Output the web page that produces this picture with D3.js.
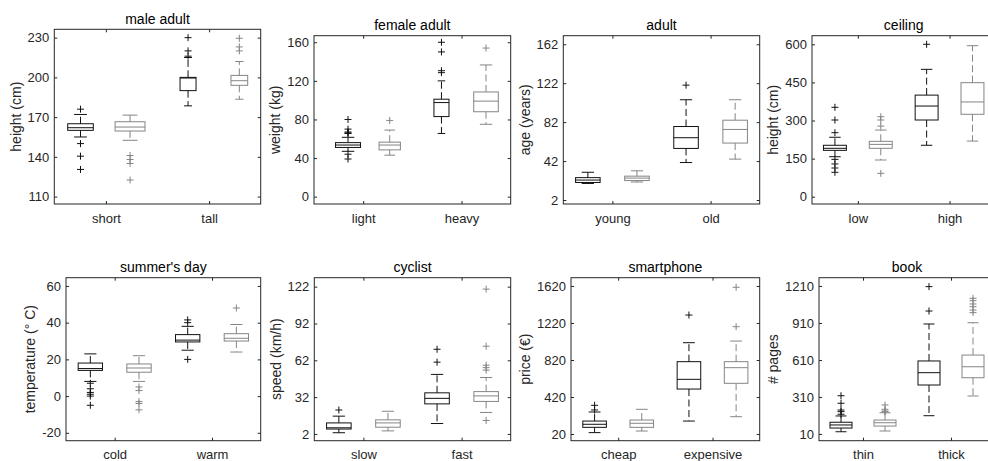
<!DOCTYPE html>
<html>
<head>
<meta charset="utf-8">
<script src="https://cdn.jsdelivr.net/npm/d3@7"></script>
<style>
  body { margin: 0; background: #fff; }
  svg text { font-family: "Liberation Sans", Arial, sans-serif; }
</style>
</head>
<body>
<div id="chart"></div>
<script>
// panel texts
const titles = ["male adult", "female adult", "adult", "ceiling", "summer's day", "cyclist", "smartphone", "book"];
const yLabels = ["height (cm)", "weight (kg)", "age (years)", "height (cm)", "temperature (° C)", "speed (km/h)", "price (€)", "# pages"];
const categories = [["short", "tall"], ["light", "heavy"], ["young", "old"], ["low", "high"],
                    ["cold", "warm"], ["slow", "fast"], ["cheap", "expensive"], ["thin", "thick"]];
const yTicks = [
  [110, 140, 170, 200, 230], [0, 40, 80, 120, 160], [2, 42, 82, 122, 162], [0, 150, 300, 450, 600],
  [-20, 0, 20, 40, 60], [2, 32, 62, 92, 122], [20, 420, 820, 1220, 1620], [10, 310, 610, 910, 1210]
];
const yLimits = [
  [104.4, 236.3], [-7.6, 166.8], [-2.1, 170.8], [-28.7, 633.9],
  [-24.3, 64.5], [-3.5, 129.3], [-52.4, 1709.7], [-44.7, 1277.3]
];

// box stats: [lower whisker, q1, median, q3, upper whisker]; order black, gray, black, gray
const maleAdult = [[155, 160, 162, 165, 172], [152.5, 159.5, 162.5, 166.5, 171.5], [178.5, 190, 199.5, 200, 215], [183.5, 194, 197.5, 201.5, 212]];
const maleAdultOut = [[176, 150, 140.5, 130.5], [141, 138, 135, 122.5], [230, 220, 216], [229.5, 223, 220]];
const femaleAdult = [[47, 51, 53.5, 56, 61.5], [43, 48.5, 53.5, 56.5, 69], [65.5, 83, 97.5, 101, 120], [75, 88, 99, 108.5, 136.5]];
const femaleAdultOut = [[80, 70, 67, 66, 65.5, 44, 39], [79], [160, 150, 130.5, 128.5], [154]];
const adult = [[19, 20, 22.5, 25, 30.5], [20.5, 22, 24.5, 26.5, 32], [40.5, 55, 66, 77.5, 105], [44, 60.5, 74.5, 84, 105]];
const adultOut = [[], [], [120], []];
const ceiling = [[157.5, 182.5, 190.5, 202.5, 234], [144.5, 190.5, 206, 218, 262.5], [202.5, 302, 357, 400, 501.5], [219, 324.5, 373, 449, 594.5]];
const ceilingOut = [[352, 302, 252, 147, 129, 113, 96], [315, 302, 278, 92], [600], []];
const summersDay = [[8, 14, 15, 18, 23], [8, 13, 15.3, 17.5, 22], [25, 29.5, 30.5, 33.5, 38], [24, 30, 31.5, 34, 39]];
const summersDayOut = [[7, 4, 2, 1, 0, -5], [5, 3, -3, -4, -7.5], [41.5, 40, 20], [48]];
const cyclist = [[3, 6, 7, 11, 16.5], [4.5, 7.5, 11, 13.5, 20.5], [10.5, 26.5, 31, 35.5, 50.5], [19.5, 28.5, 33, 36.5, 48]];
const cyclistOut = [[21.5], [], [71, 60.5], [120, 73.5, 58, 56, 54, 13]];
const smartphone = [[35, 92, 125, 160, 258], [52, 92, 136, 171, 287], [160, 506, 611, 802, 1007], [207, 568, 737, 802, 1025]];
const smartphoneOut = [[330, 280], [], [1306], [1606, 1180]];
const book = [[28, 58, 83, 105, 156], [34, 74, 101, 123, 182], [158, 407, 507, 602, 902], [318, 466, 555, 650, 912]];
const bookOut = [[320, 259, 204, 191, 170], [245, 210, 196, 190], [1205, 1007], [1110, 1091, 1064, 1042, 1015, 994]];

const stats = [maleAdult, femaleAdult, adult, ceiling, summersDay, cyclist, smartphone, book];
const outliers = [maleAdultOut, femaleAdultOut, adultOut, ceilingOut, summersDayOut, cyclistOut, smartphoneOut, bookOut];

// layout: axes rectangles [left, top, right, bottom] in px
const panels = [
  [54.3, 29.3, 260.7, 204], [314, 35.7, 510.7, 204], [563.3, 35.7, 759.7, 204], [812, 35.7, 995.4, 204],
  [66, 277.7, 260.7, 440.7], [314.3, 277.7, 510.7, 440.7], [571, 277.7, 759.7, 440.7], [819, 277.7, 995, 440.7]
];
const stdCenters = [0.75, 1.25, 1.75, 2.25];
const stdWidths = [0.25, 0.25, 0.25, 0.25];
const boxCenters = [[0.754, 1.234, 1.796, 2.293], [0.846, 1.27, 1.796, 2.249], stdCenters, stdCenters, stdCenters, stdCenters, stdCenters, stdCenters];
const boxWidths = [[0.248, 0.29, 0.155, 0.162], [0.254, 0.217, 0.153, 0.25], stdWidths, stdWidths, stdWidths, stdWidths, stdWidths, stdWidths];
const boxColors = ["#111111", "#858585", "#111111", "#858585"];
const axisColor = "#262626";

const svg = d3.select("#chart").append("svg")
  .attr("width", 988).attr("height", 461);

panels.forEach((p, i) => {
  const [l, t, r, b] = p;
  const x = d3.scaleLinear().domain([0.5, 2.5]).range([l, r]);
  const y = d3.scaleLinear().domain(yLimits[i]).range([b, t]);
  const g = svg.append("g");

  // boxes
  stats[i].forEach((s, j) => {
    const [lo, q1, med, q3, hi] = s;
    const c = x(boxCenters[i][j]);
    const hw = (x(boxWidths[i][j]) - x(0)) / 2;
    const col = boxColors[j];
    const bg = g.append("g").attr("stroke", col).attr("fill", "none").attr("stroke-width", 1);
    bg.append("line").attr("x1", c).attr("x2", c).attr("y1", y(q3)).attr("y2", y(hi)).attr("stroke-dasharray", "7,3.5");
    bg.append("line").attr("x1", c).attr("x2", c).attr("y1", y(q1)).attr("y2", y(lo)).attr("stroke-dasharray", "7,3.5");
    bg.append("line").attr("x1", c - hw / 2).attr("x2", c + hw / 2).attr("y1", y(hi)).attr("y2", y(hi));
    bg.append("line").attr("x1", c - hw / 2).attr("x2", c + hw / 2).attr("y1", y(lo)).attr("y2", y(lo));
    bg.append("rect").attr("x", c - hw).attr("width", 2 * hw)
      .attr("y", y(q3)).attr("height", y(q1) - y(q3));
    bg.append("line").attr("x1", c - hw).attr("x2", c + hw).attr("y1", y(med)).attr("y2", y(med));
    bg.selectAll("path.out")
      .data(outliers[i][j])
      .join("path")
      .attr("class", "out")
      .attr("d", v => `M${c - 3.5},${y(v)}H${c + 3.5}M${c},${y(v) - 3.5}V${y(v) + 3.5}`);
  });

  // axes
  const styleAxis = sel => {
    sel.attr("color", axisColor).attr("font-size", 13).attr("font-family", null);
    sel.select(".domain").remove();
    sel.selectAll("text").attr("fill", axisColor);
  };
  const left = g.append("g").attr("transform", `translate(${l},0)`)
    .call(d3.axisLeft(y).tickValues(yTicks[i]).tickSize(-3).tickPadding(5).tickFormat(d => String(d)))
    .call(styleAxis);
  g.append("g").attr("transform", `translate(${r},0)`)
    .call(d3.axisRight(y).tickValues(yTicks[i]).tickSize(-3).tickFormat("")).call(styleAxis);
  g.append("g").attr("transform", `translate(0,${b})`)
    .call(d3.axisBottom(x).tickValues([1, 2]).tickSize(-3).tickPadding(9.5)
      .tickFormat(d => categories[i][d - 1])).call(styleAxis);
  g.append("g").attr("transform", `translate(0,${t})`)
    .call(d3.axisTop(x).tickValues([1, 2]).tickSize(-3).tickFormat("")).call(styleAxis);

  g.append("rect").attr("x", l).attr("y", t).attr("width", r - l).attr("height", b - t)
    .attr("fill", "none").attr("stroke", axisColor).attr("stroke-width", 1);

  // title
  g.append("text").attr("x", (l + r) / 2).attr("y", t - 5.5)
    .attr("text-anchor", "middle").attr("font-size", 14).attr("fill", "#000")
    .text(titles[i]);

  // y label, placed beyond the widest tick label
  const maxW = d3.max(left.selectAll("text").nodes(), n => n.getComputedTextLength());
  const lx = l - 5 - maxW - 7;
  g.append("text")
    .attr("transform", `translate(${lx},${(t + b) / 2}) rotate(-90)`)
    .attr("text-anchor", "middle").attr("font-size", 14).attr("fill", axisColor)
    .text(yLabels[i]);
});
</script>
</body>
</html>
